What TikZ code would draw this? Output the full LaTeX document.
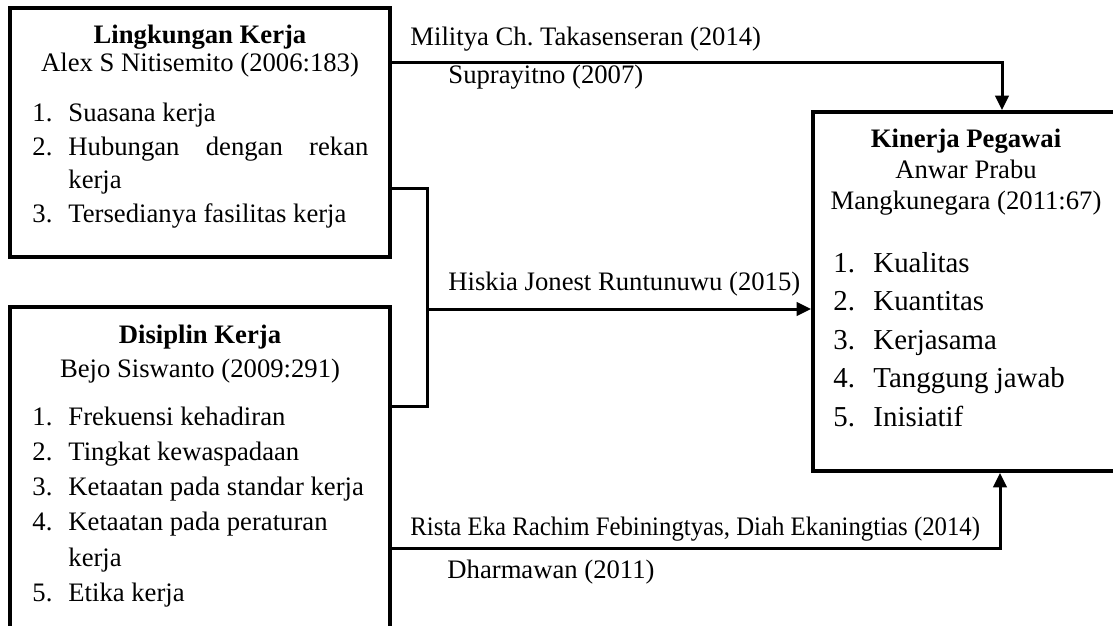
\documentclass[tikz,border=0pt,12pt]{standalone}
\usepackage{fontspec}
\setmainfont{Liberation Serif}
\usetikzlibrary{arrows.meta,fit}
\tikzset{
  kotak/.style={draw, line width=1.8pt, inner sep=0pt},
  garis/.style={line width=1.35pt},
  panah/.style={garis, -{Triangle[length=6.5pt,width=6pt]}},
  teks/.style={anchor=base west, inner sep=0pt, font=\fontsize{12}{14}\selectfont},
  judul/.style={anchor=base, inner sep=0pt, font=\fontsize{12}{14}\selectfont\bfseries},
  sumber/.style={anchor=base, inner sep=0pt, font=\fontsize{12}{14}\selectfont},
  butir/.style={teks, font=\fontsize{13}{15}\selectfont},
}

\begin{document}
\begin{tikzpicture}[x=0.45pt, y=-0.45pt]
        \useasboundingbox (0,0) rectangle (1113,625);
        \clip (0,0) rectangle (1113,625);
        \node[kotak, fit={(10,8) (390,257)}] (lk) {};
        \node[kotak, fit={(10,307) (390,650)}] (dk) {};
        \node[kotak, fit={(813,112) (1118,471)}] (kp) {};
        \node[judul] (lk-judul) at (200,43) {Lingkungan Kerja};
        \node[sumber] (lk-sumber) at (200,71) {Alex S Nitisemito (2006:183)};
        \foreach \no/\isi/\y in {1./Suasana kerja/121, 2./{\makebox[135pt][s]{Hubungan dengan rekan}}/155, /kerja/188, 3./Tersedianya fasilitas kerja/222}{
          \node[teks] (lk-no-\y) at (32,\y) {\no};
          \node[teks] (lk-isi-\y) at (68,\y) {\isi};
        }
        \node[judul] (dk-judul) at (200,343) {Disiplin Kerja};
        \node[sumber] (dk-sumber) at (200,377) {Bejo Siswanto (2009:291)};
        \foreach \no/\isi/\y in {1./Frekuensi kehadiran/425, 2./Tingkat kewaspadaan/460, 3./Ketaatan pada standar kerja/495, 4./Ketaatan pada peraturan/530, /kerja/566, 5./Etika kerja/601}{
          \node[teks] (dk-no-\y) at (32,\y) {\no};
          \node[teks] (dk-isi-\y) at (68,\y) {\isi};
        }
        \node[judul] (kp-judul) at (966,147) {Kinerja Pegawai};
        \node[sumber] (kp-sumber1) at (966,178) {Anwar Prabu};
        \node[sumber] (kp-sumber2) at (966,209) {Mangkunegara (2011:67)};
        \foreach \no/\isi/\y in {1./Kualitas/272, 2./Kuantitas/310.5, 3./Kerjasama/349, 4./Tanggung jawab/387.5, 5./Inisiatif/426}{
          \node[butir] (kp-no-\y) at (833,\y) {\no};
          \node[butir] (kp-isi-\y) at (873,\y) {\isi};
        }
        \coordinate (ta) at (1002,62);
        \draw[panah] (lk.east |- ta) -- (ta) -- (kp.north -| ta);
        \coordinate (ja) at (427,188);
        \coordinate (jb) at (427,406);
        \coordinate (jt) at (427,309);
        \draw[garis] (lk.east |- ja) -- (ja) -- (jb) -- (dk.east |- jb);
        \draw[panah] (jt) -- (kp.west |- jt);
        \coordinate (bw) at (1000,548);
        \draw[panah] (dk.east |- bw) -- (bw) -- (kp.south -| bw);
        \node[teks] (l-militya) at (410,45) {Militya Ch.\ Takasenseran (2014)};
        \node[teks] (l-supra) at (448,83) {Suprayitno (2007)};
        \node[teks] (l-hiskia) at (448,290) {Hiskia Jonest Runtunuwu (2015)};
        \node[teks] (l-rista) at (410,535) {\scalebox{.93}[1]{Rista Eka Rachim Febiningtyas, Diah Ekaningtias (2014)}};
        \node[teks] (l-dharma) at (447,578) {Dharmawan (2011)};
      \end{tikzpicture}
\end{document}
